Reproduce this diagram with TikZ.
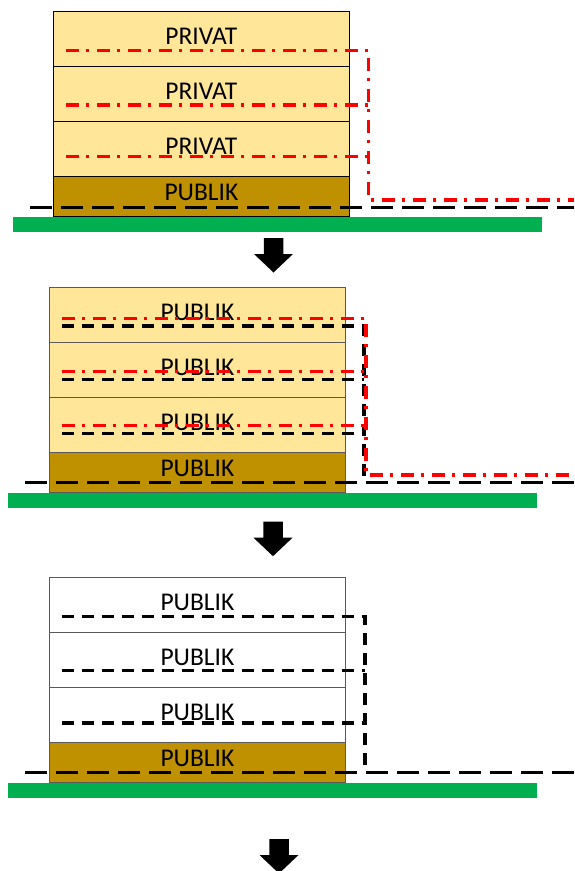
\documentclass[tikz,border=0pt]{standalone}
\usepackage{fontspec}
\setmainfont{Carlito}
\usetikzlibrary{positioning, calc}

\definecolor{lightgold}{HTML}{FFE699}
\definecolor{darkgold}{HTML}{BF9000}
\definecolor{grassgreen}{HTML}{00B050}

\tikzset{
  layer/.style={draw=black!65, line width=1pt, minimum width=296pt, minimum height=55pt,
    inner sep=0pt, outer sep=0pt, text depth=5pt, font=\fontsize{25.5}{30}\selectfont},
  privlayer/.style={layer, fill=lightgold},
  publayer/.style={layer, fill=white},
  baselayer/.style={layer, fill=darkgold, minimum height=40.5pt, text depth=8.5pt},
  groundbar/.style={fill=grassgreen, minimum width=529pt, minimum height=15pt, inner sep=0pt, outer sep=0pt},
  groundline/.style={line width=3.2pt, dash pattern=on 22pt off 9pt},
  privline/.style={red, line width=3.2pt, dash pattern=on 13pt off 7pt on 3pt off 8pt},
  publine/.style={line width=3.2pt, dash pattern=on 12pt off 8pt},
  downarrow/.pic={\fill (-9.75,0) -- (9.75,0) -- (9.75,16) -- (19.5,16) -- (0,34.5)
    -- (-19.5,16) -- (-9.75,16) -- cycle;}
}

\begin{document}
\begin{tikzpicture}[x=1pt, y=-1pt]
    \useasboundingbox (0,0) rectangle (574,871);

    % stage 1: private layers on a public base
    \node[privlayer, draw=black, anchor=north west] (a1) at (53.4,11) {PRIVAT};
    \node[privlayer, draw=black, below=0pt of a1] (a2) {PRIVAT};
    \node[privlayer, draw=black, below=0pt of a2] (a3) {PRIVAT};
    \node[baselayer, draw=black, below=0pt of a3] (a4) {PUBLIK};
    \node[groundbar, anchor=north west] (ga) at ([xshift=-40.4pt]a4.south west) {};

    \draw[groundline] (30,207.7) -- (574,207.7);
    \draw[privline] (66,50.7) -- (368.6,50.7) -- (368.6,200) -- (574,200);
    \foreach \y in {105,156.7}
        \draw[privline] (66,\y) -- (368.6,\y);

    \pic at (273.5,238) {downarrow};

    % stage 2: layers made public, private lines still there
    \node[privlayer, anchor=north west] (b1) at (49.4,287.3) {PUBLIK};
    \node[privlayer, below=0pt of b1] (b2) {PUBLIK};
    \node[privlayer, below=0pt of b2] (b3) {PUBLIK};
    \node[baselayer, below=0pt of b3] (b4) {PUBLIK};
    \node[groundbar, anchor=north west] (gb) at ([xshift=-41pt]b4.south west) {};

    \draw[groundline] (25,482.7) -- (574,482.7);
    \draw[publine] (61.5,326) -- (364,326) -- (364,482.7);
    \foreach \y in {379.3,433.3}
        \draw[publine] (61.5,\y) -- (364,\y);
    \draw[privline] (61.5,318.3) -- (366,318.3) -- (366,475) -- (574,475);
    \foreach \y in {371.7,425.7}
        \draw[privline] (61.5,\y) -- (366,\y);

    \pic at (273,521.7) {downarrow};

    % stage 3: everything public
    \node[publayer, anchor=north west] (c1) at (49.4,577.3) {PUBLIK};
    \node[publayer, below=0pt of c1] (c2) {PUBLIK};
    \node[publayer, below=0pt of c2] (c3) {PUBLIK};
    \node[baselayer, below=0pt of c3] (c4) {PUBLIK};
    \node[groundbar, anchor=north west] (gc) at ([xshift=-41pt]c4.south west) {};

    \draw[groundline] (25,772.7) -- (574,772.7);
    \draw[publine] (61.5,616.7) -- (365,616.7) -- (365,772.7);
    \foreach \y in {670.7,723}
        \draw[publine] (61.5,\y) -- (365,\y);

    \pic at (279,839) {downarrow};
\end{tikzpicture}
\end{document}
